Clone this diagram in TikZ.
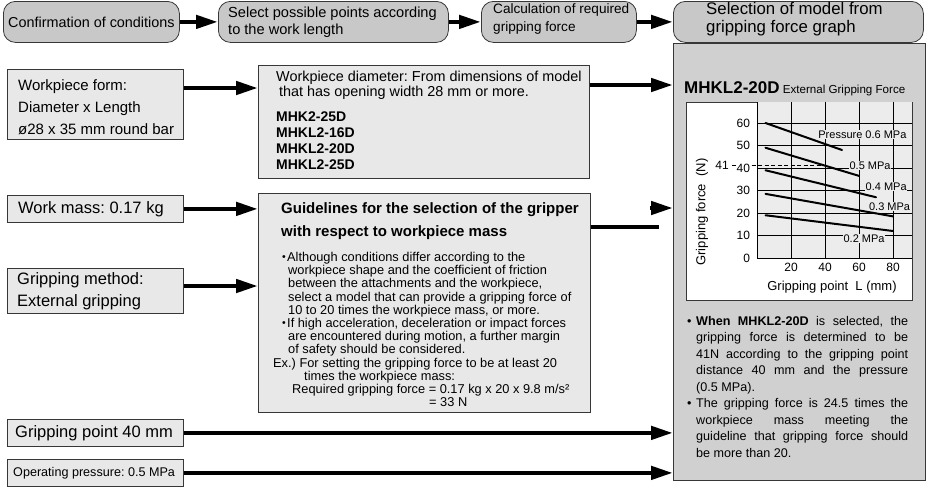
\documentclass[tikz,border=0pt]{standalone}
\usepackage{fontspec}
\setmainfont{Liberation Sans}
\usetikzlibrary{arrows.meta}
\frenchspacing

\definecolor{headgray}{RGB}{200,200,200}
\definecolor{boxgray}{RGB}{232,232,232}
\definecolor{panelgray}{RGB}{208,208,208}
\definecolor{plotgray}{RGB}{236,236,236}
\definecolor{edgegray}{RGB}{55,55,55}

\newcommand{\fsz}[2]{\fontsize{#1}{#2}\selectfont}
\newcommand{\gbul}{\makebox[5pt][l]{\raisebox{0.8pt}{\fsz{10.5}{10}\textbullet}}}

\tikzset{
  headbox/.style={draw=edgegray, fill=headgray, rounded corners=12pt, anchor=north west, inner sep=0pt, line width=0.8pt},
  condbox/.style={draw=edgegray, fill=boxgray, anchor=north west, inner sep=0pt, line width=0.8pt},
  boxtext/.style={anchor=west, align=left, inner sep=0pt},
  flow/.style={line width=4.5pt, -{Triangle[length=22pt,width=13pt]}},
  curve/.style={line width=2pt, line cap=round},
  plab/.style={fill=plotgray, inner sep=0.6pt, font=\fsz{11}{12}},
  tlab/.style={fill=white, inner sep=0pt, font=\fsz{12}{13}}
}

\begin{document}
\begin{tikzpicture}[x=1pt, y=-1pt]
  \useasboundingbox (0,0) rectangle (932,488);

  % header row
  \node[headbox, minimum width=176pt, minimum height=41pt, font=\fsz{14.4}{17}] (conf) at (3,1) {Confirmation of conditions};
  \node[headbox, minimum width=230pt, minimum height=41pt] (sel) at (218,1) {};
  \node[headbox, minimum width=155pt, minimum height=41pt] (calc) at (481,1) {};
  \node[headbox, minimum width=250pt, minimum height=41pt] (sgraph) at (673,1) {};
  \node[boxtext, font=\fsz{14.6}{17}] (seltxt) at ([xshift=10pt]sel.west) {Select possible points according\\to the work length};
  \node[boxtext, font=\fsz{13.6}{18}] (calctxt) at ([xshift=12pt,yshift=2.5pt]calc.west) {Calculation of required\\gripping force};
  \node[boxtext, font=\fsz{16.8}{18}] (sgraphtxt) at ([xshift=33pt,yshift=2.5pt]sgraph.west) {Selection of model from\\gripping force graph};
  \draw[flow] (conf.east) -- (sel.west);
  \draw[flow] (sel.east) -- (calc.west);
  \draw[flow] (calc.east) -- (sgraph.west);

  % conditions
  \node[condbox, minimum width=176pt, minimum height=70pt] (form) at (7,69) {};
  \node[condbox, minimum width=176pt, minimum height=27pt] (mass) at (7,195) {};
  \node[condbox, minimum width=176pt, minimum height=45pt] (method) at (7,268) {};
  \node[condbox, minimum width=176pt, minimum height=27pt] (gpoint) at (7,419) {};
  \node[condbox, minimum width=176pt, minimum height=27pt] (opress) at (7,459) {};
  \node[boxtext, font=\fsz{15}{22}] (formtxt) at ([xshift=11pt,yshift=-3pt]form.west) {Workpiece form:\\Diameter x Length\\ø28 x 35 mm round bar};
  \node[boxtext, font=\fsz{16.5}{20}] (masstxt) at ([xshift=11pt]mass.west) {Work mass: 0.17 kg};
  \node[boxtext, font=\fsz{16.5}{22}] (methodtxt) at ([xshift=10pt]method.west) {Gripping method:\\External gripping};
  \node[boxtext, font=\fsz{16.5}{20}] (gpointtxt) at ([xshift=8pt]gpoint.west) {Gripping point 40 mm};
  \node[boxtext, font=\fsz{12.6}{15}] (opresstxt) at ([xshift=6pt]opress.west) {Operating pressure: 0.5 MPa};

  % middle column
  \node[condbox, minimum width=331pt, minimum height=113pt] (diam) at (258,65) {};
  \node[boxtext, font=\fsz{14.4}{14.7}] (diamtxt) at (276,85) {Workpiece diameter: From dimensions of model\\\hspace*{3pt}that has opening width 28 mm or more.};
  \node[boxtext, font=\bfseries\fsz{14}{16}] (diamlist) at (276,141) {MHK2-25D\\MHKL2-16D\\MHKL2-20D\\MHKL2-25D};

  \node[condbox, minimum width=332pt, minimum height=219pt] (guide) at (258,193) {};
  \node[boxtext, font=\bfseries\fsz{15}{22.5}] (guidettl) at (281,221) {Guidelines for the selection of the gripper\\with respect to workpiece mass};
  \node[boxtext, font=\fsz{12.8}{13.2}] (guidebody) at (272,329.5) {%
    \hspace*{10pt}\gbul Although conditions differ according to the\\
    \hspace*{16pt}workpiece shape and the coefficient of friction\\
    \hspace*{16pt}between the attachments and the workpiece,\\
    \hspace*{16pt}select a model that can provide a gripping force of\\
    \hspace*{16pt}10 to 20 times the workpiece mass, or more.\\
    \hspace*{10pt}\gbul If high acceleration, deceleration or impact forces\\
    \hspace*{16pt}are encountered during motion, a further margin\\
    \hspace*{16pt}of safety should be considered.\\
    \hspace*{1pt}Ex.) For setting the gripping force to be at least 20\\
    \hspace*{32pt}times the workpiece mass:\\
    \hspace*{20pt}Required gripping force = 0.17 kg x 20 x 9.8 m/s²\\
    \hspace*{157pt}= 33 N};

  % graph panel
  \node[condbox, fill=panelgray, minimum width=252pt, minimum height=437pt] (panel) at (673,43) {};
  \node[anchor=base west, inner sep=0pt] (ptitle) at (684,93) {\bfseries\fsz{17}{20}MHKL2-20D\mdseries\fsz{11.6}{14}\ External Gripping Force};
  \draw[edgegray, fill=white, line width=0.8pt] (686,102) rectangle (912,300);

  \begin{scope}[shift={(757,258)}, x=1.7pt, y=2.25pt]
    \fill[plotgray] (0,0) rectangle (91.2,69.3);
    \foreach \gx in {0,20,...,80}
      \draw[line width=0.6pt] (\gx,0) -- (\gx,69.3);
    \foreach \gy in {0,10,...,60}
      \draw[line width=0.6pt] (0,\gy) -- (91.2,\gy);
    \draw[line width=0.7pt, dash pattern=on 4pt off 2.5pt] (-14.7,41) -- (40,41);
    \foreach \gy in {0,10,...,60}
      \node[tlab, anchor=east] at (-4,\gy) {\gy};
    \foreach \gx in {20,40,60,80}
      \node[tlab, anchor=north] at (\gx,-2.2) {\gx};
    \node[tlab, anchor=east] at (-16.5,41) {41};
    \draw[curve] (5,60) -- (50,48);
    \draw[curve] (5,49) -- (60,36.5);
    \draw[curve] (5,39) -- (70,27);
    \draw[curve] (5,28.5) -- (80,18.5);
    \draw[curve] (5,19) -- (80,12);
    \node[plab] at (62,55) {Pressure 0.6 MPa};
    \node[plab] at (66.5,41) {0.5 MPa};
    \node[plab] at (76,31.7) {0.4 MPa};
    \node[plab] at (78,23) {0.3 MPa};
    \node[plab] at (63,8.6) {0.2 MPa};
  \end{scope}
  \node[rotate=90, font=\fsz{13}{15}] (ylab) at (702,212) {Gripping force\ \ (N)};
  \node[font=\fsz{13}{15}] (xlab) at (832,287) {Gripping point\ \ L (mm)};

  \node[anchor=north west, text width=221pt, align=justify, inner sep=0pt, font=\fsz{12.6}{16.5}] (ptxt) at (687,316) {%
    \tolerance=10000
    \hangindent=9pt\hangafter=1\noindent\makebox[9pt][l]{\textbullet}\textbf{When MHKL2-20D} is selected, the\linebreak
    gripping force is determined to be\linebreak
    41N according to the gripping point\linebreak
    distance 40 mm and the pressure\linebreak
    (0.5 MPa).\par
    \hangindent=9pt\hangafter=1\noindent\makebox[9pt][l]{\textbullet}The gripping force is 24.5 times the\linebreak
    workpiece mass meeting the\linebreak
    guideline that gripping force should\linebreak
    be more than 20.\par};

  % connectors
  \coordinate (yform) at (0,88);
  \coordinate (ydiam) at (0,85);
  \coordinate (ymethod) at (0,286);
  \coordinate (yguide) at (0,227);
  \coordinate (gtail) at (659,227);
  \coordinate (ghead) at (650,208);
  \draw[flow] (form.east |- yform) -- (diam.west |- yform);
  \draw[flow] (diam.east |- ydiam) -- (panel.west |- ydiam);
  \draw[flow] (mass.east) -- (guide.west |- mass.east);
  \draw[flow] (method.east |- ymethod) -- (guide.west |- ymethod);
  \draw[line width=4.5pt] (guide.east |- yguide) -- (gtail);
  \draw[flow] (ghead) -- (panel.west |- ghead);
  \draw[flow] (gpoint.east) -- (panel.west |- gpoint.east);
  \draw[flow] (opress.east) -- (panel.west |- opress.east);
\end{tikzpicture}
\end{document}
